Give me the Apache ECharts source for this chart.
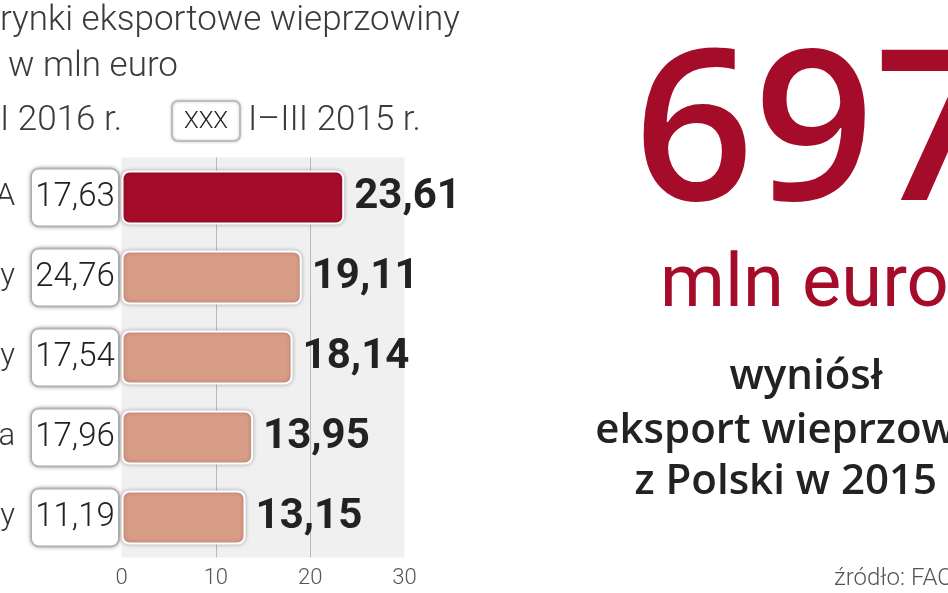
<!DOCTYPE html>
<html>
<head>
<meta charset="utf-8">
<script src="https://cdn.jsdelivr.net/npm/echarts@6/dist/echarts.min.js"></script>
<style>
  html, body { margin: 0; padding: 0; background: #fff; }
  #chart { width: 948px; height: 593px; }
</style>
</head>
<body>
<div id="chart"></div>
<script>
// kraje (widoczne tylko ostatnie litery, lewa część ucięta)
const countries = ['USA', 'Chiny', 'Filipiny', 'Japonia', 'Węgry'];
const val2016 = [23.61, 19.11, 18.14, 13.95, 13.15];
const val2015 = [17.63, 24.76, 17.54, 17.96, 11.19];
const xTicks = [0, 10, 20, 30];

const RED = '#a50c2a';
const SALMON = '#d89d87';
const FONT = 'Roboto, "Noto Sans", sans-serif';
const OS = '"Open Sans", sans-serif';

const fmt = (v) => v.toFixed(2).replace('.', ',');

const chart = echarts.init(document.getElementById('chart'));

chart.setOption({
  backgroundColor: '#fff',
  animation: false,
  grid: {
    left: 121.5,
    right: 543.5,
    top: 157.5,
    bottom: 35.5,
    outerBoundsMode: 'none',
    containLabel: false,
    show: true,
    backgroundColor: '#f0f0f0',
    borderWidth: 0
  },
  xAxis: {
    type: 'value',
    min: xTicks[0],
    max: xTicks[xTicks.length - 1],
    interval: 10,
    axisLine: { show: false },
    axisTick: { show: false },
    axisLabel: {
      margin: 10,
      color: '#555',
      fontSize: 22,
      fontFamily: FONT,
      fontWeight: 300
    },
    splitLine: {
      show: true,
      lineStyle: { color: ['rgba(0,0,0,0)', '#b9b9b9', '#b9b9b9', 'rgba(0,0,0,0)'], width: 1 }
    }
  },
  yAxis: {
    type: 'category',
    inverse: true,
    data: countries,
    axisLine: { show: false },
    axisTick: { show: false },
    axisLabel: {
      margin: 3.5,
      formatter: function (name, i) {
        return '{n|' + name + '}{g|}{b|' + fmt(val2015[i]) + '}';
      },
      rich: {
        n: { fontSize: 31, fontFamily: FONT, fontWeight: 300, color: '#333' },
        g: { width: 17 },
        b: {
          fontSize: 33,
          fontFamily: FONT,
          fontWeight: 300,
          color: '#222',
          width: 86,
          height: 56,
          align: 'center',
          backgroundColor: '#fff',
          borderColor: '#c4c4c4',
          borderWidth: 2,
          borderRadius: 7,
          shadowColor: 'rgba(0,0,0,0.25)',
          shadowBlur: 4
        }
      }
    }
  },
  series: [{
    type: 'bar',
    barWidth: 54,
    data: val2016.map((v, i) => ({
      value: v,
      itemStyle: { color: i === 0 ? RED : SALMON }
    })),
    itemStyle: {
      borderColor: '#fff',
      borderWidth: 2,
      borderRadius: 7,
      shadowColor: 'rgba(0,0,0,0.25)',
      shadowBlur: 4
    },
    label: {
      show: true,
      position: 'right',
      distance: 10,
      formatter: (p) => fmt(p.value),
      fontSize: 42,
      fontWeight: 'bold',
      fontFamily: FONT,
      color: '#222'
    }
  }],
  graphic: [
    // tytuł (ucięty z lewej)
    { type: 'text', left: 0, top: 4, style: { text: 'rynki eksportowe wieprzowiny', font: '300 35px ' + FONT, fill: '#3a3a3a' } },
    { type: 'text', left: 8, top: 50, style: { text: 'w mln euro', font: '300 35px ' + FONT, fill: '#3a3a3a' } },
    // legenda
    { type: 'text', left: 0, top: 104, style: { text: 'I 2016 r.', font: '300 35px ' + FONT, fill: '#3a3a3a' } },
    {
      type: 'rect', shape: { x: 172, y: 101, width: 68, height: 40, r: 6 },
      style: { fill: '#fff', stroke: '#bdbdbd', lineWidth: 2, shadowColor: 'rgba(0,0,0,0.2)', shadowBlur: 3 }
    },
    { type: 'text', x: 206, y: 122, style: { text: 'XXX', font: '300 24px ' + FONT, fill: '#222', align: 'center', verticalAlign: 'middle' } },
    { type: 'text', left: 248, top: 104, style: { text: 'I–III 2015 r.', font: '300 35px ' + FONT, fill: '#3a3a3a' } },
    // prawa strona
    { type: 'text', x: 634, y: 245, style: { text: '697', font: '600 210px ' + OS, fill: RED, align: 'left', verticalAlign: 'bottom' } },
    { type: 'text', x: 660, y: 287, style: { text: 'mln euro', font: '400 74px ' + FONT, fill: RED, align: 'left', verticalAlign: 'middle' } },
    { type: 'text', x: 806, y: 377, style: { text: 'wyniósł', font: '600 42px ' + OS, fill: '#222', align: 'center', verticalAlign: 'middle' } },
    { type: 'text', x: 806, y: 431, style: { text: 'eksport wieprzowiny', font: '600 42px ' + OS, fill: '#222', align: 'center', verticalAlign: 'middle' } },
    { type: 'text', x: 806, y: 482, style: { text: 'z Polski w 2015 r.', font: '600 42px ' + OS, fill: '#222', align: 'center', verticalAlign: 'middle' } },
    { type: 'text', x: 834, y: 579, style: { text: 'źródło: FAO', font: '300 24px ' + FONT, fill: '#555', align: 'left', verticalAlign: 'middle' } }
  ]
});
</script>
</body>
</html>
